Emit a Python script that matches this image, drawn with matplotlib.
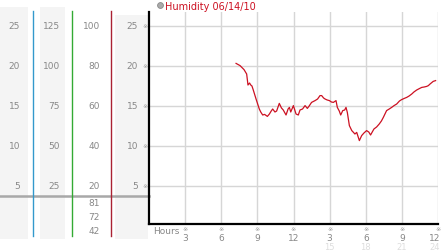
import matplotlib
matplotlib.use("Agg")
import matplotlib.pyplot as plt
from matplotlib import transforms
from matplotlib.patches import Rectangle

# ---- data ----
hours = [7.23, 7.56, 7.89, 8.11, 8.22, 8.35, 8.45, 8.55, 8.66, 8.89, 9.16, 9.28, 9.44,
         9.6, 9.83, 10.0, 10.15, 10.27, 10.46, 10.6, 10.82, 11.0, 11.15, 11.38, 11.55,
         11.66, 11.77, 11.99, 12.21, 12.4, 12.54, 12.75, 12.96, 13.15, 13.3, 13.5, 13.79,
         14.0, 14.2, 14.34, 14.5, 14.62, 14.8, 14.98, 15.15, 15.31, 15.53, 15.64, 15.8,
         15.92, 16.09, 16.25, 16.36, 16.47, 16.64, 16.84, 16.95, 17.1, 17.25, 17.47,
         17.66, 17.85, 18.07, 18.25, 18.4, 18.68, 18.9, 19.12, 19.3, 19.46, 19.73,
         19.95, 20.15, 20.35, 20.57, 20.8, 20.98, 21.2, 21.4, 21.6, 21.82, 22.0, 22.23,
         22.45, 22.65, 22.85, 23.06, 23.2, 23.34, 23.6, 23.8]
humidity = [81.3, 80.2, 78.2, 76.0, 70.5, 71.5, 70.5, 70.0, 68.0, 63.5, 58.5, 57.0, 55.5,
            55.8, 54.8, 56.0, 57.5, 58.5, 57.0, 57.5, 61.3, 59.0, 58.0, 55.5, 58.5,
            59.3, 57.0, 60.2, 56.0, 55.5, 58.0, 58.5, 60.2, 58.8, 60.0, 61.8, 62.7,
            63.5, 65.2, 65.2, 64.0, 63.5, 63.0, 62.7, 62.0, 61.8, 62.7, 59.3, 57.5,
            55.5, 57.7, 58.0, 59.3, 56.8, 50.2, 47.7, 47.0, 46.0, 46.8, 42.7,
            45.2, 46.5, 47.7, 47.0, 45.5, 48.5, 49.5, 51.0, 52.5, 54.3, 57.7,
            58.5, 59.3, 60.2, 61.0, 62.5, 63.2, 63.8, 64.3, 65.0, 66.0, 67.0, 68.0,
            68.7, 69.3, 69.5, 69.8, 70.2, 71.0, 72.3, 72.7]

title = "Humidity 06/14/10"
hum_ticks = [100, 80, 60, 40, 20]          # red column (%)
col1_labels = ["25", "20", "15", "10", "5"]
col2_labels = ["125", "100", "75", "50", "25"]
col3_labels = ["100", "80", "60", "40", "20"]
col4_labels = ["25", "20", "15", "10", "5"]
stats_labels = ["81", "72", "42"]
x_ticks = [3, 6, 9, 12, 15, 18, 21, 24]
x_labels = ["3", "6", "9", "12", "3", "6", "9", "12"]
x_labels24 = ["", "", "", "", "15", "18", "21", "24"]

W, H = 442, 253
fig = plt.figure(figsize=(W / 100, H / 100), dpi=100)
fig.patch.set_facecolor("white")

# background overlay axes in pixel coordinates
bg = fig.add_axes([0, 0, 1, 1], zorder=0)
bg.set_xlim(0, W)
bg.set_ylim(H, 0)
bg.axis("off")

# main axes
ax = fig.add_axes([149 / W, (H - 225) / H, (438 - 149) / W, (225 - 13) / H], zorder=2)
ax.patch.set_alpha(0)
ax.set_xlim(0, 24)
ax.set_ylim(1, 107)
for s in ["top", "right"]:
    ax.spines[s].set_visible(False)
for s in ["left", "bottom"]:
    ax.spines[s].set_color("black")
    ax.spines[s].set_linewidth(1.6)
ax.set_xticks(x_ticks)
ax.set_yticks(hum_ticks)
ax.grid(True, color="#d6d6d6", linewidth=1.0)
ax.tick_params(length=0, labelleft=False, labelbottom=False)
ax.plot(hours, humidity, color="#cc1122", linewidth=0.9, zorder=3)

gray_txt = "#888888"
fs = 6.5
# blended: x in pixels (bg data), y in main-axes data
tr = transforms.blended_transform_factory(bg.transData, ax.transData)
trx = transforms.blended_transform_factory(ax.transData, bg.transData)

# gray column backgrounds
for (x0, x1, y0) in [(0, 28, 8), (40, 65, 8), (115, 148, 16)]:
    bg.add_patch(Rectangle((x0, y0), x1 - x0, 240 - y0, facecolor="#f4f4f4",
                           edgecolor="none", zorder=0))

# horizontal separator
bg.plot([0, 149], [197, 197], color="#a8a8a8", linewidth=1.8, zorder=1)
# colored vertical lines
for x, c in [(33, "#3399cc"), (72, "#33aa33"), (111, "#aa2233")]:
    bg.plot([x, x], [12, 237], color=c, linewidth=1.0, zorder=2)

for i, h in enumerate(hum_ticks):
    bg.text(20, h, col1_labels[i], transform=tr, ha="right", va="center",
            fontsize=fs, color=gray_txt)
    bg.text(60, h, col2_labels[i], transform=tr, ha="right", va="center",
            fontsize=fs, color=gray_txt)
    bg.text(100, h, col3_labels[i], transform=tr, ha="right", va="center",
            fontsize=fs, color=gray_txt)
    bg.text(138, h, col4_labels[i], transform=tr, ha="right", va="center",
            fontsize=fs, color=gray_txt)
    bg.text(145, h, "\u203b", transform=tr, ha="center", va="center",
            fontsize=4.5, color="#999999")

for i, s in enumerate(stats_labels):
    bg.text(100, 204 + 14 * i, s, ha="right", va="center", fontsize=fs, color=gray_txt)

# x axis labels
bg.text(153, 232, "Hours", ha="left", va="center", fontsize=fs, color=gray_txt)
for i, xv in enumerate(x_ticks):
    last = (i == len(x_ticks) - 1)
    t = transforms.offset_copy(trx, fig=fig, x=-3 if last else 0, y=0, units="dots")
    bg.text(xv, 230, "\u203b", transform=trx, ha="center", va="center",
            fontsize=4.5, color="#999999")
    bg.text(xv, 238.5, x_labels[i], transform=t, ha="center", va="center",
            fontsize=fs, color=gray_txt)
    if x_labels24[i]:
        bg.text(xv, 247.5, x_labels24[i], transform=t, ha="center", va="center",
                fontsize=6, color="#dddddd")

# title
bg.plot([160], [6], marker="o", markersize=4.2, color="#aaaaaa",
        markeredgecolor="#888888", markeredgewidth=0.6)
bg.text(165, 6.5, title, ha="left", va="center", fontsize=7, color="#cc1122")

fig.savefig("out.png", dpi=100)
